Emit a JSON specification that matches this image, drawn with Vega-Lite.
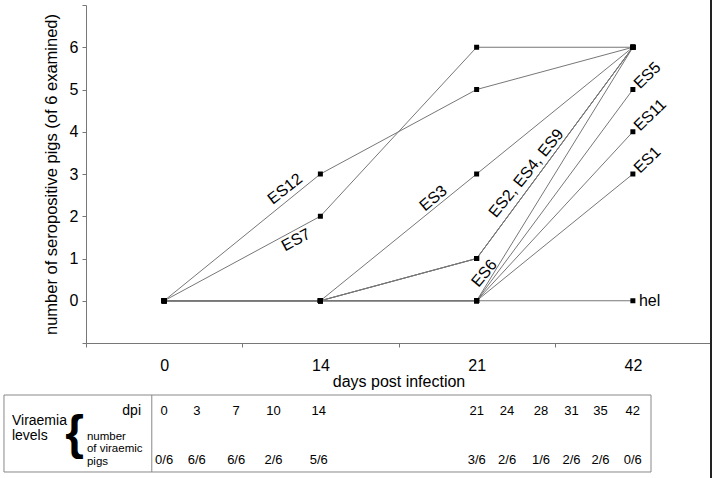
{
  "$schema": "https://vega.github.io/schema/vega-lite/v6.json",
  "width": 625,
  "height": 338,
  "autosize": {"type": "none"},
  "padding": {"left": 86, "top": 5, "right": 5, "bottom": 135},
  "config": {
    "view": {"stroke": null},
    "font": "Liberation Sans",
    "text": {"font": "Liberation Sans", "color": "#000"},
    "axis": {"labelFont": "Liberation Sans", "titleFont": "Liberation Sans", "labelColor": "#000", "titleColor": "#000", "titleFontWeight": "normal", "domainColor": "#777", "tickColor": "#777", "grid": false}
  },
  "datasets": {
    "series": [
      {"s": "ES12", "day": 0, "pos": 0, "n": 0}, {"s": "ES12", "day": 14, "pos": 1, "n": 3}, {"s": "ES12", "day": 21, "pos": 2, "n": 5}, {"s": "ES12", "day": 42, "pos": 3, "n": 6},
      {"s": "ES7", "day": 0, "pos": 0, "n": 0}, {"s": "ES7", "day": 14, "pos": 1, "n": 2}, {"s": "ES7", "day": 21, "pos": 2, "n": 6}, {"s": "ES7", "day": 42, "pos": 3, "n": 6},
      {"s": "ES3", "day": 0, "pos": 0, "n": 0}, {"s": "ES3", "day": 14, "pos": 1, "n": 0}, {"s": "ES3", "day": 21, "pos": 2, "n": 3}, {"s": "ES3", "day": 42, "pos": 3, "n": 6},
      {"s": "ES2", "day": 0, "pos": 0, "n": 0}, {"s": "ES2", "day": 14, "pos": 1, "n": 0}, {"s": "ES2", "day": 21, "pos": 2, "n": 1}, {"s": "ES2", "day": 42, "pos": 3, "n": 6},
      {"s": "ES4", "day": 0, "pos": 0, "n": 0}, {"s": "ES4", "day": 14, "pos": 1, "n": 0}, {"s": "ES4", "day": 21, "pos": 2, "n": 1}, {"s": "ES4", "day": 42, "pos": 3, "n": 6},
      {"s": "ES9", "day": 0, "pos": 0, "n": 0}, {"s": "ES9", "day": 14, "pos": 1, "n": 0}, {"s": "ES9", "day": 21, "pos": 2, "n": 1}, {"s": "ES9", "day": 42, "pos": 3, "n": 6},
      {"s": "ES6", "day": 0, "pos": 0, "n": 0}, {"s": "ES6", "day": 14, "pos": 1, "n": 0}, {"s": "ES6", "day": 21, "pos": 2, "n": 0}, {"s": "ES6", "day": 42, "pos": 3, "n": 6},
      {"s": "ES5", "day": 0, "pos": 0, "n": 0}, {"s": "ES5", "day": 14, "pos": 1, "n": 0}, {"s": "ES5", "day": 21, "pos": 2, "n": 0}, {"s": "ES5", "day": 42, "pos": 3, "n": 5},
      {"s": "ES11", "day": 0, "pos": 0, "n": 0}, {"s": "ES11", "day": 14, "pos": 1, "n": 0}, {"s": "ES11", "day": 21, "pos": 2, "n": 0}, {"s": "ES11", "day": 42, "pos": 3, "n": 4},
      {"s": "ES1", "day": 0, "pos": 0, "n": 0}, {"s": "ES1", "day": 14, "pos": 1, "n": 0}, {"s": "ES1", "day": 21, "pos": 2, "n": 0}, {"s": "ES1", "day": 42, "pos": 3, "n": 3},
      {"s": "hel", "day": 0, "pos": 0, "n": 0}, {"s": "hel", "day": 14, "pos": 1, "n": 0}, {"s": "hel", "day": 21, "pos": 2, "n": 0}, {"s": "hel", "day": 42, "pos": 3, "n": 0}
    ],
    "labels": [
      {"label": "ES12", "pos": 0.774, "n": 2.646},
      {"label": "ES7", "pos": 0.844, "n": 1.438},
      {"label": "ES3", "pos": 1.723, "n": 2.425},
      {"label": "ES2, ES4, ES9", "pos": 2.318, "n": 3.017},
      {"label": "ES6", "pos": 2.049, "n": 0.65},
      {"label": "ES5", "pos": 3, "n": 5},
      {"label": "ES11", "pos": 3, "n": 4},
      {"label": "ES1", "pos": 3, "n": 3},
      {"label": "hel", "pos": 3, "n": 0}
    ],
    "table": [
      {"dpi": "0", "frac": "0/6", "pos": 0},
      {"dpi": "3", "frac": "6/6", "pos": 0.209},
      {"dpi": "7", "frac": "6/6", "pos": 0.461},
      {"dpi": "10", "frac": "2/6", "pos": 0.7},
      {"dpi": "14", "frac": "5/6", "pos": 0.99},
      {"dpi": "21", "frac": "3/6", "pos": 2.001},
      {"dpi": "24", "frac": "2/6", "pos": 2.195},
      {"dpi": "28", "frac": "1/6", "pos": 2.412},
      {"dpi": "31", "frac": "2/6", "pos": 2.607},
      {"dpi": "35", "frac": "2/6", "pos": 2.793},
      {"dpi": "42", "frac": "0/6", "pos": 2.999}
    ],
    "head14": [
      {"t": "Viraemia", "pos": -0.974, "n": -2.846},
      {"t": "levels", "pos": -0.974, "n": -3.19}
    ],
    "head12": [
      {"t": "number", "pos": -0.494, "n": -3.222},
      {"t": "of viraemic", "pos": -0.494, "n": -3.518},
      {"t": "pigs", "pos": -0.494, "n": -3.814}
    ],
    "one": [{}]
  },
  "layer": [
    {
      "data": {"name": "series"},
      "mark": {"type": "line", "stroke": "#777", "strokeWidth": 1},
      "encoding": {
        "x": {
          "field": "pos", "type": "quantitative",
          "scale": {"domain": [-0.5, 3.5], "nice": false, "zero": false},
          "axis": {
            "values": [-0.5, 0, 0.5, 1, 1.5, 2, 2.5, 3, 3.5],
            "labelExpr": "datum.value==0?'0':datum.value==1?'14':datum.value==2?'21':datum.value==3?'42':''",
            "tickOpacity": {"condition": {"test": "datum.value % 1 !== 0", "value": 1}, "value": 0},
            "title": "days post infection",
            "tickSize": 4, "labelPadding": 10, "titlePadding": 0,
            "labelFontSize": 16, "titleFontSize": 16,
            "labelFlush": false, "labelOverlap": false, "labelBound": false
          }
        },
        "y": {
          "field": "n", "type": "quantitative",
          "scale": {"domain": [-1, 7], "nice": false, "zero": false},
          "axis": {
            "values": [-1, 0, 1, 2, 3, 4, 5, 6, 7],
            "labelExpr": "datum.value>=0 && datum.value<=6 ? datum.label : ''",
            "title": "number of seropositive pigs (of 6 examined)",
            "tickSize": 4, "labelPadding": 4, "titlePadding": 10,
            "labelFontSize": 16, "titleFontSize": 16.5, "labelOverlap": false
          }
        },
        "detail": {"field": "s"}
      }
    },
    {
      "data": {"name": "series"},
      "mark": {"type": "square", "size": 25, "color": "#000", "opacity": 1},
      "encoding": {
        "x": {"field": "pos", "type": "quantitative"},
        "y": {"field": "n", "type": "quantitative"}
      }
    },
    {
      "data": {"name": "labels"},
      "transform": [{"filter": "datum.label == 'ES12'"}],
      "mark": {"type": "text", "fontSize": 16, "angle": -38, "align": "center", "baseline": "middle"},
      "encoding": {"x": {"field": "pos", "type": "quantitative"}, "y": {"field": "n", "type": "quantitative"}, "text": {"field": "label"}}
    },
    {
      "data": {"name": "labels"},
      "transform": [{"filter": "datum.label == 'ES7'"}],
      "mark": {"type": "text", "fontSize": 16, "angle": -28, "align": "center", "baseline": "middle"},
      "encoding": {"x": {"field": "pos", "type": "quantitative"}, "y": {"field": "n", "type": "quantitative"}, "text": {"field": "label"}}
    },
    {
      "data": {"name": "labels"},
      "transform": [{"filter": "datum.label == 'ES3'"}],
      "mark": {"type": "text", "fontSize": 16, "angle": -40, "align": "center", "baseline": "middle"},
      "encoding": {"x": {"field": "pos", "type": "quantitative"}, "y": {"field": "n", "type": "quantitative"}, "text": {"field": "label"}}
    },
    {
      "data": {"name": "labels"},
      "transform": [{"filter": "datum.label == 'ES2, ES4, ES9'"}],
      "mark": {"type": "text", "fontSize": 16, "angle": -51, "align": "center", "baseline": "middle"},
      "encoding": {"x": {"field": "pos", "type": "quantitative"}, "y": {"field": "n", "type": "quantitative"}, "text": {"field": "label"}}
    },
    {
      "data": {"name": "labels"},
      "transform": [{"filter": "datum.label == 'ES6'"}],
      "mark": {"type": "text", "fontSize": 16, "angle": -50, "align": "center", "baseline": "middle"},
      "encoding": {"x": {"field": "pos", "type": "quantitative"}, "y": {"field": "n", "type": "quantitative"}, "text": {"field": "label"}}
    },
    {
      "data": {"name": "labels"},
      "transform": [{"filter": {"field": "label", "oneOf": ["ES5", "ES11", "ES1"]}}],
      "mark": {"type": "text", "fontSize": 16, "angle": -44, "align": "left", "baseline": "middle", "dx": 5},
      "encoding": {"x": {"field": "pos", "type": "quantitative"}, "y": {"field": "n", "type": "quantitative"}, "text": {"field": "label"}}
    },
    {
      "data": {"name": "labels"},
      "transform": [{"filter": "datum.label == 'hel'"}],
      "mark": {"type": "text", "fontSize": 16, "align": "left", "baseline": "middle", "dx": 6},
      "encoding": {"x": {"field": "pos", "type": "quantitative"}, "y": {"field": "n", "type": "quantitative"}, "text": {"field": "label"}}
    },
    {
      "data": {"name": "one"},
      "mark": {"type": "rule", "stroke": "#222", "strokeWidth": 2},
      "encoding": {"x": {"datum": 3.5, "type": "quantitative"}, "y": {"datum": 7.2, "type": "quantitative"}, "y2": {"datum": -4.3}}
    },
    {
      "data": {"name": "one"},
      "mark": {"type": "rect", "fillOpacity": 0, "stroke": "#888", "strokeWidth": 1},
      "encoding": {"x": {"datum": -1.025, "type": "quantitative"}, "x2": {"datum": 3.116}, "y": {"datum": -2.231, "type": "quantitative"}, "y2": {"datum": -4.053}}
    },
    {
      "data": {"name": "one"},
      "mark": {"type": "rule", "stroke": "#888", "strokeWidth": 1},
      "encoding": {"x": {"datum": -0.079, "type": "quantitative"}, "y": {"datum": -2.231, "type": "quantitative"}, "y2": {"datum": -4.053}}
    },
    {
      "data": {"name": "table"},
      "mark": {"type": "text", "fontSize": 13, "align": "center", "baseline": "middle"},
      "encoding": {"x": {"field": "pos", "type": "quantitative"}, "y": {"datum": -2.609, "type": "quantitative"}, "text": {"field": "dpi"}}
    },
    {
      "data": {"name": "table"},
      "mark": {"type": "text", "fontSize": 13, "align": "center", "baseline": "middle"},
      "encoding": {"x": {"field": "pos", "type": "quantitative"}, "y": {"datum": -3.768, "type": "quantitative"}, "text": {"field": "frac"}}
    },
    {
      "data": {"name": "head14"},
      "mark": {"type": "text", "fontSize": 14, "align": "left", "baseline": "middle"},
      "encoding": {"x": {"field": "pos", "type": "quantitative"}, "y": {"field": "n", "type": "quantitative"}, "text": {"field": "t"}}
    },
    {
      "data": {"name": "one"},
      "mark": {"type": "text", "fontSize": 14, "align": "right", "baseline": "middle", "text": "dpi"},
      "encoding": {"x": {"datum": -0.148, "type": "quantitative"}, "y": {"datum": -2.609, "type": "quantitative"}}
    },
    {
      "data": {"name": "head12"},
      "mark": {"type": "text", "fontSize": 11.5, "align": "left", "baseline": "middle"},
      "encoding": {"x": {"field": "pos", "type": "quantitative"}, "y": {"field": "n", "type": "quantitative"}, "text": {"field": "t"}}
    },
    {
      "data": {"name": "one"},
      "mark": {"type": "text", "fontSize": 48, "fontWeight": "bold", "align": "center", "baseline": "middle", "text": "{"},
      "encoding": {"x": {"datum": -0.573, "type": "quantitative"}, "y": {"datum": -3.178, "type": "quantitative"}}
    }
  ]
}
